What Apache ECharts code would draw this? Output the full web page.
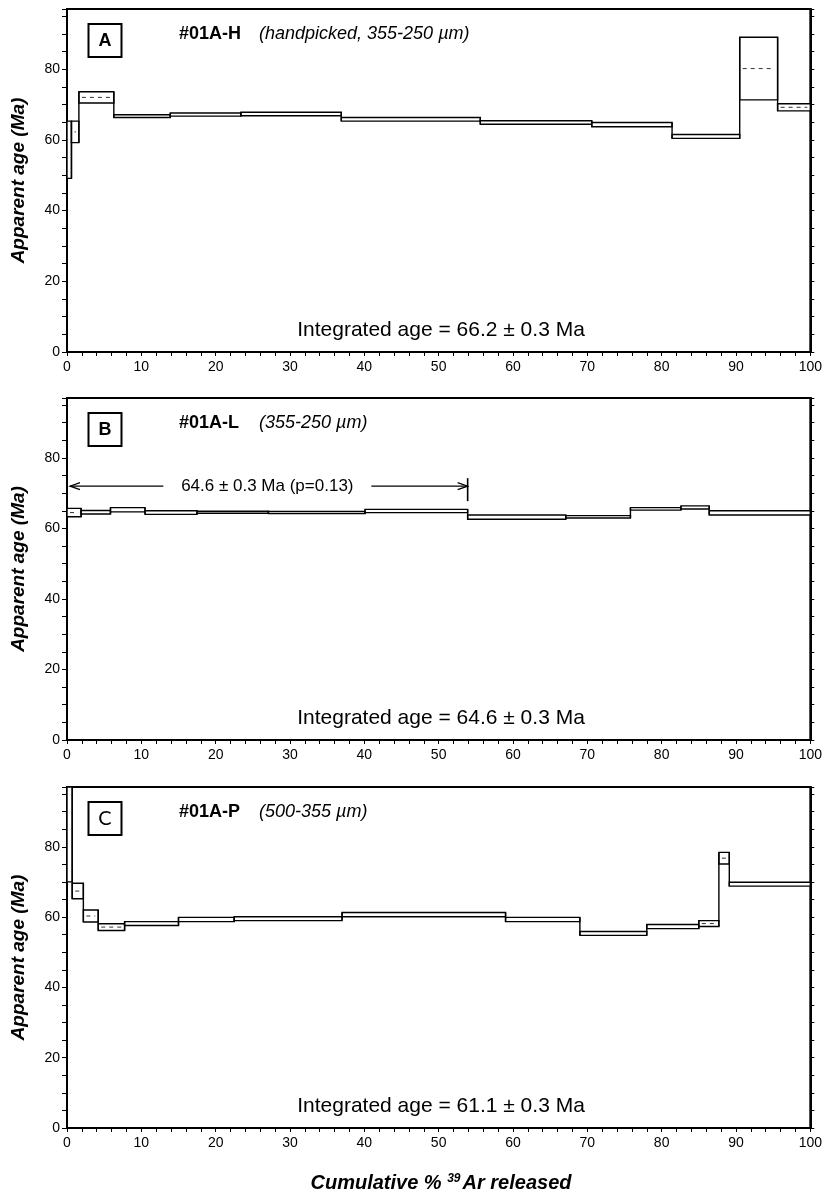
<!DOCTYPE html>
<html>
<head>
<meta charset="utf-8">
<script src="https://cdn.jsdelivr.net/npm/echarts@6/dist/echarts.min.js"></script>
<style>
html,body{margin:0;padding:0;background:#fff;}
#chart{width:825px;height:1197px;}
</style>
</head>
<body>
<div id="chart"></div>
<script>
// ---------------- DATA ----------------
// Panel A: #01A-H (handpicked, 355-250 µm)
const xEdgesA = [0, 0.6, 1.6, 6.3, 13.9, 23.4, 36.9, 55.6, 70.6, 81.4, 90.5, 95.6, 100];
const agesA   = [57.2, 62.25, 72.0, 66.7, 67.15, 67.3, 65.8, 64.9, 64.3, 60.95, 80.15, 69.2];
const errsA   = [8.1, 3.05, 1.6, 0.4, 0.45, 0.5, 0.5, 0.5, 0.6, 0.55, 8.85, 1.0];

// Panel B: #01A-L (355-250 µm)
const xEdgesB = [0, 1.9, 5.85, 10.5, 17.5, 27.1, 40.1, 53.9, 67.1, 75.8, 82.6, 86.4, 100];
const agesB   = [64.5, 64.6, 65.3, 64.5, 64.6, 64.5, 64.95, 63.2, 63.3, 65.55, 65.95, 64.4];
const errsB   = [1.2, 0.5, 0.6, 0.5, 0.3, 0.3, 0.45, 0.6, 0.35, 0.35, 0.45, 0.6];
const plateauB = {start: 0, end: 53.9, labelAge: 72, text: '64.6 ± 0.3 Ma (p=0.13)'};

// Panel C: #01A-P (500-355 µm)
const xEdgesC = [0, 0.7, 2.2, 4.2, 7.75, 15.0, 22.5, 37.0, 59.0, 69.0, 78.0, 85.0, 87.7, 89.1, 100];
const agesC   = [140, 67.4, 60.3, 57.15, 58.15, 59.3, 59.55, 60.7, 59.3, 55.35, 57.3, 58.15, 76.75, 69.35];
const errsC   = [70, 2.2, 1.7, 0.95, 0.55, 0.6, 0.55, 0.6, 0.6, 0.55, 0.6, 0.85, 1.65, 0.55];

const panelLetters = ['A', 'B', 'C'];
const sampleNames  = ['#01A-H', '#01A-L', '#01A-P'];
const sampleNotes  = ['(handpicked, 355-250 µm)', '(355-250 µm)', '(500-355 µm)'];
const integrated   = ['Integrated age = 66.2 ± 0.3 Ma', 'Integrated age = 64.6 ± 0.3 Ma', 'Integrated age = 61.1 ± 0.3 Ma'];

const xTickLabels = [0, 10, 20, 30, 40, 50, 60, 70, 80, 90, 100];
const yTickLabels = [0, 20, 40, 60, 80];
const Y_MAX = 97;

// ---------------- LAYOUT ----------------
const NARROW = "'Liberation Sans Narrow','Arial Narrow','Liberation Sans',Arial,sans-serif";
const SANS = "'Liberation Sans',Arial,sans-serif";
const grids = [
  {left: 67, right: 10, top: 9, height: 343},
  {left: 67, right: 10, top: 398, height: 342},
  {left: 67, right: 10, top: 787, height: 341}
];

function rows(xs, ages, errs) {
  return ages.map((a, i) => {
    const lo = a - errs[i], hi = a + errs[i];
    const plo = i > 0 ? ages[i-1] - errs[i-1] : lo;
    const phi = i > 0 ? ages[i-1] + errs[i-1] : hi;
    return [xs[i], xs[i+1], lo, hi, plo, phi, a];
  });
}

function stepRender(params, api) {
  const x0 = api.value(0), x1 = api.value(1);
  const lo = Math.max(0, api.value(2)), hi = Math.min(Y_MAX, api.value(3));
  const plo = Math.max(0, api.value(4)), phi = Math.min(Y_MAX, api.value(5));
  const age = api.value(6);
  const pTL = api.coord([x0, hi]);
  const pBR = api.coord([x1, lo]);
  const children = [{
    type: 'rect',
    shape: {x: pTL[0], y: pTL[1], width: pBR[0] - pTL[0], height: pBR[1] - pTL[1]},
    style: {fill: '#fff', stroke: '#000', lineWidth: 1.4}
  }];
  if (params.dataIndex > 0) {
    const a = api.coord([x0, Math.min(lo, plo)]);
    const b = api.coord([x0, Math.max(hi, phi)]);
    children.push({type: 'line', shape: {x1: a[0], y1: a[1], x2: b[0], y2: b[1]},
      style: {stroke: '#000', lineWidth: 1.4}});
  }
  if (pBR[1] - pTL[1] > 5.5 && age < Y_MAX && (pBR[0] - pTL[0]) > 6) {
    const c0 = api.coord([x0, age]), c1 = api.coord([x1, age]);
    children.push({type: 'line', shape: {x1: c0[0] + 3, y1: c0[1], x2: c1[0] - 3, y2: c1[1]},
      style: {stroke: '#333', lineWidth: 1, lineDash: [4, 4]}});
  }
  return {type: 'group', children: children};
}

function plateauRender(params, api) {
  const s = api.coord([api.value(0), api.value(2)]);
  const e = api.coord([api.value(1), api.value(2)]);
  const mid = (s[0] + e[0]) / 2, y = s[1];
  const half = 104;
  const st = {stroke: '#000', lineWidth: 1.2};
  return {type: 'group', children: [
    {type: 'line', shape: {x1: s[0] + 3, y1: y, x2: mid - half, y2: y}, style: st},
    {type: 'polyline', shape: {points: [[s[0] + 13, y - 3.5], [s[0] + 3, y], [s[0] + 13, y + 3.5]]}, style: Object.assign({fill: null}, st)},
    {type: 'line', shape: {x1: mid + half, y1: y, x2: e[0], y2: y}, style: st},
    {type: 'polyline', shape: {points: [[e[0] - 10, y - 3.5], [e[0], y], [e[0] - 10, y + 3.5]]}, style: Object.assign({fill: null}, st)},
    {type: 'line', shape: {x1: e[0], y1: y - 8, x2: e[0], y2: y + 15}, style: {stroke: '#000', lineWidth: 1.6}},
    {type: 'text', style: {text: plateauB.text, x: mid, y: y, align: 'center', verticalAlign: 'middle',
      fontSize: 17, fontFamily: NARROW, fill: '#000'}}
  ]};
}

const xAxes = [], yAxes = [], series = [], graphics = [];
const allX = [xEdgesA, xEdgesB, xEdgesC], allAges = [agesA, agesB, agesC], allErrs = [errsA, errsB, errsC];

grids.forEach((g, k) => {
  xAxes.push({
    gridIndex: k, type: 'value', min: 0, max: 100, interval: 2,
    axisLine: {show: true, lineStyle: {color: '#000', width: 2}},
    axisTick: {show: true, length: 4, inside: false, lineStyle: {color: '#000', width: 1}},
    axisLabel: {color: '#000', fontFamily: NARROW, fontSize: 14, margin: 8,
      formatter: v => xTickLabels.indexOf(Math.round(v)) >= 0 && Math.abs(v - Math.round(v)) < 1e-6 ? String(Math.round(v)) : ''},
    splitLine: {show: false}
  });
  yAxes.push({
    gridIndex: k, type: 'value', min: 0, max: Y_MAX, interval: 5,
    name: 'Apparent age (Ma)', nameLocation: 'middle', nameGap: 39,
    nameTextStyle: {fontFamily: SANS, fontWeight: 'bold', fontStyle: 'italic', fontSize: 19, color: '#000'},
    axisLine: {show: true, lineStyle: {color: '#000', width: 2}},
    axisTick: {show: true, length: 5, lineStyle: {color: '#000', width: 1}},
    axisLabel: {color: '#000', fontFamily: NARROW, fontSize: 14, margin: 7,
      formatter: v => yTickLabels.indexOf(v) >= 0 ? String(v) : ''},
    splitLine: {show: false}
  });
  yAxes.push({
    gridIndex: k, type: 'value', min: 0, max: Y_MAX, interval: 5, position: 'right',
    axisLine: {show: true, lineStyle: {color: '#000', width: 2}},
    axisTick: {show: true, length: 4, lineStyle: {color: '#000', width: 1}},
    axisLabel: {show: false}, splitLine: {show: false}
  });
  series.push({
    type: 'custom', xAxisIndex: k, yAxisIndex: 2 * k,
    renderItem: stepRender,
    encode: {x: [0, 1], y: [2, 3]},
    data: rows(allX[k], allAges[k], allErrs[k]),
    silent: true, animation: false
  });

  const top = g.top;
  graphics.push({type: 'rect', shape: {x: 88.5, y: top + 15, width: 33, height: 33},
    style: {fill: '#fff', stroke: '#000', lineWidth: 2}});
  graphics.push({type: 'text', style: {text: panelLetters[k], x: 105, y: top + 32, align: 'center', verticalAlign: 'middle',
    fontSize: k === 2 ? 20 : 18, fontWeight: k === 2 ? 'normal' : 'bold', fontFamily: k === 2 ? "'Lato',sans-serif" : SANS, fill: '#000'}});
  graphics.push({type: 'text', style: {text: sampleNames[k], x: 179, y: top + 25, align: 'left', verticalAlign: 'middle',
    fontSize: 18, fontWeight: 'bold', fontFamily: NARROW, fill: '#000'}});
  graphics.push({type: 'text', style: {text: sampleNotes[k], x: 259, y: top + 25, align: 'left', verticalAlign: 'middle',
    fontSize: 18, fontStyle: 'italic', fontFamily: NARROW, fill: '#000'}});
  graphics.push({type: 'text', style: {text: integrated[k], x: 441, y: top + g.height - 22, align: 'center', verticalAlign: 'middle',
    fontSize: 21, fontFamily: NARROW, fill: '#000'}});
});

series.push({
  type: 'custom', xAxisIndex: 1, yAxisIndex: 2,
  renderItem: plateauRender,
  encode: {x: [0, 1], y: 2},
  data: [[plateauB.start, plateauB.end, plateauB.labelAge]],
  silent: true, animation: false
});

graphics.push({type: 'text', style: {
  text: '{t|Cumulative % }{s|39}{t|Ar released}', x: 441, y: 1183, align: 'center', verticalAlign: 'middle',
  rich: {
    t: {fontFamily: SANS, fontWeight: 'bold', fontStyle: 'italic', fontSize: 20, fill: '#000'},
    s: {fontFamily: SANS, fontWeight: 'bold', fontStyle: 'italic', fontSize: 12, fill: '#000', verticalAlign: 'top', padding: [0, 2, 8, 0]}
  }
}});

const chart = echarts.init(document.getElementById('chart'), null, {renderer: 'canvas'});
chart.setOption({
  backgroundColor: '#fff',
  animation: false,
  grid: grids.map(g => Object.assign({show: true, borderColor: '#000', borderWidth: 2, backgroundColor: 'transparent'}, g)),
  xAxis: xAxes,
  yAxis: yAxes,
  series: series,
  graphic: graphics
});
</script>
</body>
</html>
